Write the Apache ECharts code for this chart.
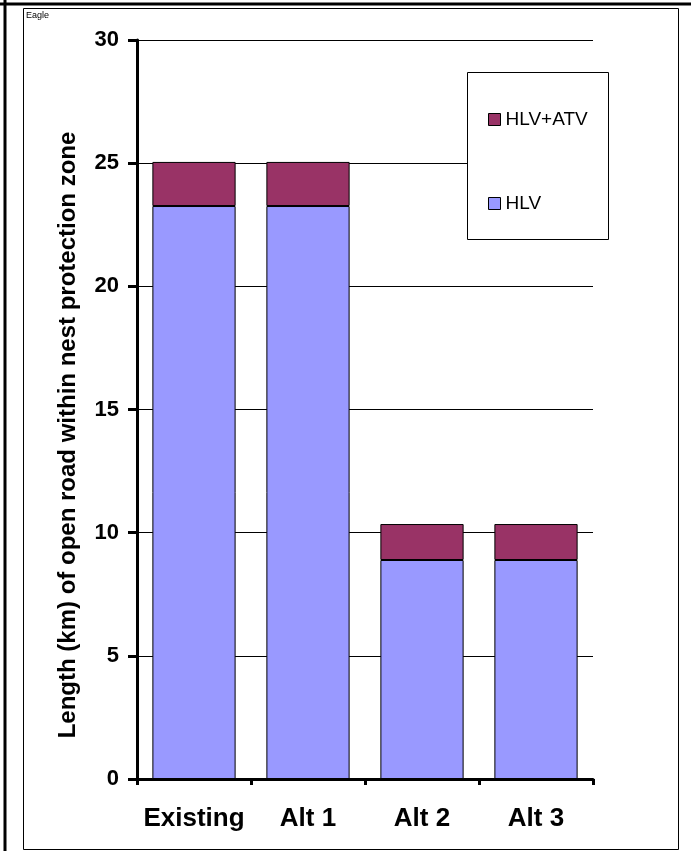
<!DOCTYPE html>
<html>
<head>
<meta charset="utf-8">
<script src="https://cdn.jsdelivr.net/npm/echarts@6/dist/echarts.min.js"></script>
<style>
  html, body { margin: 0; padding: 0; background: #fff; }
  #chart { width: 691px; height: 851px; }
</style>
</head>
<body>
<div id="chart"></div>
<script>
// Road length within the eagle nest protection zone, by alternative
var categories = ['Existing', 'Alt 1', 'Alt 2', 'Alt 3'];
var hlv = [23.26, 23.26, 8.89, 8.89];
var hlvAtv = [1.79, 1.79, 1.46, 1.46];
var yTicks = { min: 0, max: 30, interval: 5 };
var yTitle = 'Length (km) of open road within nest protection zone';

var FONT = 'Arial, "Liberation Sans", Helvetica, sans-serif';

var chart = echarts.init(document.getElementById('chart'), null, { renderer: 'canvas' });

chart.setOption({
  backgroundColor: '#ffffff',
  animation: false,
  textStyle: { fontFamily: FONT },
  grid: { left: 137, right: 98, top: 40, bottom: 72, containLabel: false },
  graphic: [
    // heavy frame along top and left edges
    { type: 'line', shape: { x1: 5, y1: 0, x2: 5, y2: 851 }, style: { stroke: '#000', lineWidth: 3 }, z: 100 },
    { type: 'line', shape: { x1: 0, y1: 4, x2: 691, y2: 4 }, style: { stroke: '#000', lineWidth: 3 }, z: 100 },
    // chart area frame
    { type: 'rect', shape: { x: 23.5, y: 8.5, width: 655, height: 841 }, style: { fill: null, stroke: '#000', lineWidth: 1 }, z: 100 },
    { type: 'text', left: 26, top: 11, style: { text: 'Eagle', fontSize: 9, fontFamily: FONT, fill: '#000' }, z: 100 },
    // value axis title, centred on the chart area
    {
      type: 'text', x: 68, y: 435, rotation: Math.PI / 2,
      style: { text: yTitle, fontSize: 24, fontWeight: 'bold', fontFamily: FONT, fill: '#000', align: 'center', verticalAlign: 'middle' },
      z: 100
    },
    // legend box
    { type: 'rect', shape: { x: 467.5, y: 72.5, width: 141, height: 167 }, style: { fill: '#fff', stroke: '#000', lineWidth: 1 }, z: 5 }
  ],
  legend: {
    data: ['HLV+ATV', 'HLV'],
    orient: 'vertical',
    left: 483,
    top: 105,
    icon: 'rect',
    itemWidth: 12,
    itemHeight: 12,
    itemGap: 65,
    selectedMode: false,
    z: 10,
    textStyle: { fontSize: 19, lineHeight: 19, fontFamily: FONT, color: '#000', padding: [0, 0, 0, 0] },
    itemStyle: { borderColor: '#000', borderWidth: 1 }
  },
  xAxis: {
    type: 'category',
    data: categories,
    axisLine: { lineStyle: { color: '#000', width: 3 } },
    axisTick: { show: true, interval: 0, alignWithLabel: false, length: 6, lineStyle: { color: '#000', width: 3 } },
    axisLabel: { interval: 0, fontSize: 26, fontWeight: 'bold', color: '#000', margin: 27, fontFamily: FONT }
  },
  yAxis: {
    type: 'value',
    min: yTicks.min,
    max: yTicks.max,
    interval: yTicks.interval,
    axisLine: { show: true, lineStyle: { color: '#000', width: 3 } },
    axisTick: { show: true, length: 9, lineStyle: { color: '#000', width: 3 } },
    axisLabel: { fontSize: 22, fontWeight: 'bold', color: '#000', margin: 18, fontFamily: FONT },
    splitLine: { show: true, lineStyle: { color: '#000', width: 1 } }
  },
  series: [
    {
      name: 'HLV',
      type: 'bar',
      stack: 'road',
      data: hlv,
      barCategoryGap: '27%',
      itemStyle: { color: '#9999FF', borderColor: '#000', borderWidth: 1 }
    },
    {
      name: 'HLV+ATV',
      type: 'bar',
      stack: 'road',
      data: hlvAtv,
      barCategoryGap: '27%',
      itemStyle: { color: '#993366', borderColor: '#000', borderWidth: 1 }
    }
  ]
});
</script>
</body>
</html>
